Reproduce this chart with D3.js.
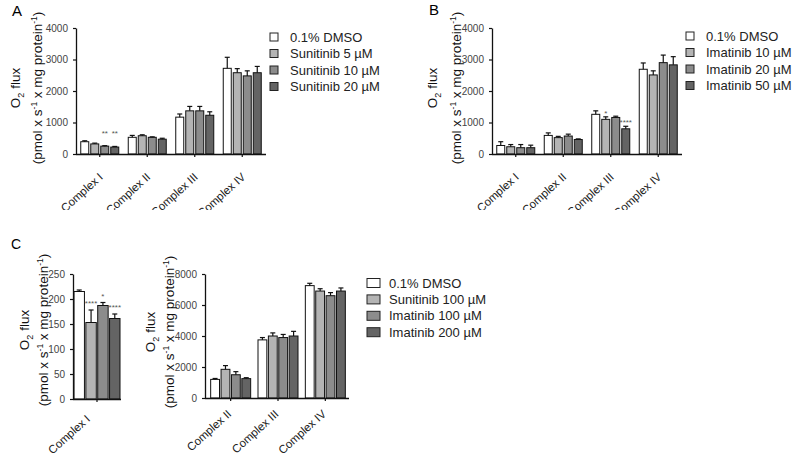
<!DOCTYPE html>
<html><head><meta charset="utf-8">
<script src="https://cdn.jsdelivr.net/npm/d3@7"></script>
<style>
body{margin:0;background:#fff;}
svg{display:block;font-family:"Liberation Sans",Arial,sans-serif;}
</style></head>
<body><svg id="chart" width="800" height="459"></svg>
<script>
// ---------------- DATA ----------------
const categoriesAB = ["Complex I","Complex II","Complex III","Complex IV"];
const categoriesC1 = ["Complex I"];
const categoriesC2 = ["Complex II","Complex III","Complex IV"];

const seriesA = ["0.1% DMSO","Sunitinib 5 µM","Sunitinib 10 µM","Sunitinib 20 µM"];
const seriesB = ["0.1% DMSO","Imatinib 10 µM","Imatinib 20 µM","Imatinib 50 µM"];
const seriesC = ["0.1% DMSO","Sunitinib 100 µM","Imatinib 100 µM","Imatinib 200 µM"];

// means[category][series]
const meansA = [[390,320,250,220],[530,580,530,470],[1170,1370,1370,1230],[2720,2580,2480,2580]];
const errA   = [[30,25,15,20],[60,30,15,30],[100,140,140,110],[350,130,160,200]];
const sigA   = [["","","**","**"],["","","",""],["","","",""],["","","",""]];

const meansB = [[270,230,200,200],[590,520,570,460],[1260,1100,1160,800],[2690,2510,2900,2830]];
const errB   = [[120,70,100,80],[80,40,60,20],[110,80,40,80],[200,130,240,260]];
const sigB   = [["","","",""],["","","",""],["","*","","****"],["","","",""]];

const meansC1 = [[215,153,187,161]];
const errC1   = [[3,25,6,9]];
const sigC1   = [["","****","*","****"]];

const meansC2 = [[1200,1850,1500,1250],[3750,4000,3900,4000],[7250,6900,6600,6900]];
const errC2   = [[60,240,200,60],[150,200,200,300],[150,150,200,200]];

const ticksAB = [0,1000,2000,3000,4000];
const ticksC1 = [0,50,100,150,200,250];
const ticksC2 = [0,2000,4000,6000,8000];

const fills = ["#ffffff","#b4b4b4","#8c8c8c","#646464"];

// ---------------- DRAW ----------------
const svg = d3.select("#chart");
svg.append("rect").attr("width",800).attr("height",459).attr("fill","#fff");

svg.append("defs").append("clipPath").attr("id","clipTop")
  .append("rect").attr("x",0).attr("y",0).attr("width",800).attr("height",210);

function yTitle(g, x1, x2, cy){
  const t1 = g.append("text").attr("transform",`translate(${x1},${cy}) rotate(-90)`)
    .attr("text-anchor","middle").attr("font-size",13.5).attr("fill","#111");
  t1.append("tspan").text("O");
  t1.append("tspan").attr("font-size",9).attr("dy",4).text("2");
  t1.append("tspan").attr("dy",-4).text(" flux");
  const t2 = g.append("text").attr("transform",`translate(${x2},${cy}) rotate(-90)`)
    .attr("text-anchor","middle").attr("font-size",13.5).attr("fill","#111");
  t2.append("tspan").text("(pmol x s");
  t2.append("tspan").attr("font-size",8.5).attr("dy",-5).text("-1");
  t2.append("tspan").attr("dy",5).text(" x mg protein");
  t2.append("tspan").attr("font-size",8.5).attr("dy",-5).text("-1");
  t2.append("tspan").attr("dy",5).text(")");
}

function panel(cfg){
  const g = svg.append("g");
  if (cfg.clip) g.attr("clip-path","url(#clipTop)");
  const y = d3.scaleLinear().domain([0, cfg.ticks[cfg.ticks.length-1]]).range([cfg.y0, cfg.y1]);
  const x = d3.scaleBand().domain(cfg.cats).range([cfg.x0 + cfg.shift, cfg.x1]).paddingInner(0).paddingOuter(0);
  const xs = d3.scaleBand().domain(d3.range(4)).range([-cfg.gw/2, cfg.gw/2]).paddingInner(cfg.pad);

  // bars
  cfg.cats.forEach((c, ci) => {
    const cx = x(c) + x.bandwidth()/2;
    for (let si = 0; si < 4; si++){
      const m = cfg.means[ci][si], e = cfg.err[ci][si];
      const bx = cx + xs(si), bw = xs.bandwidth();
      g.append("rect").attr("x",bx).attr("y",y(m)).attr("width",bw).attr("height",cfg.y0 - y(m))
        .attr("fill",fills[si]).attr("stroke","#111").attr("stroke-width",1);
      const mx = bx + bw/2;
      g.append("line").attr("x1",mx).attr("x2",mx).attr("y1",y(m)).attr("y2",y(m+e))
        .attr("stroke","#111").attr("stroke-width",1.2);
      g.append("line").attr("x1",mx-2.5).attr("x2",mx+2.5).attr("y1",y(m+e)).attr("y2",y(m+e))
        .attr("stroke","#111").attr("stroke-width",1.2);
      const s = cfg.sig ? cfg.sig[ci][si] : "";
      if (s) {
        g.append("text").attr("x",mx).attr("y",y(m+e) - cfg.sigOff).attr("text-anchor","middle")
          .attr("font-size",8).attr("fill","#555").text(s);
      }
    }
  });

  // y axis
  const ya = g.append("g").attr("transform",`translate(${cfg.x0},0)`)
    .call(d3.axisLeft(y).tickValues(cfg.ticks).tickFormat(d3.format("d")).tickSize(3).tickSizeOuter(0).tickPadding(5));
  ya.select(".domain").attr("stroke","#111").attr("stroke-width",1.3);
  ya.selectAll(".tick line").attr("stroke","#111").attr("stroke-width",1.2);
  ya.selectAll(".tick text").attr("font-size",10).attr("fill","#444").attr("font-family","Liberation Sans, Arial, sans-serif");

  // x axis (ticks only, labels drawn separately)
  const xa = g.append("g").attr("transform",`translate(0,${cfg.y0})`)
    .call(d3.axisBottom(x).tickSize(3).tickSizeOuter(0).tickFormat(""));
  xa.select(".domain").attr("d",`M${cfg.x0},0.5H${cfg.xEnd}`).attr("stroke","#111").attr("stroke-width",1.3);
  xa.selectAll(".tick line").attr("stroke","#111").attr("stroke-width",1.2);

  cfg.cats.forEach(c => {
    const cx = x(c) + x.bandwidth()/2;
    const lg = g.append("g").attr("transform",`translate(${cx + cfg.lx},${cfg.y0 + cfg.ly})`);
    lg.append("text").attr("transform","rotate(-42)")
      .attr("x",0).attr("y",0)
      .attr("text-anchor","end").attr("font-size",11.5).attr("fill","#222").text(c);
  });

  yTitle(svg, cfg.tx1, cfg.tx2, cfg.tcy);

  // legend
  if (cfg.legend){
    const L = cfg.legend;
    cfg.series.forEach((s, i) => {
      const ly = L.y + i*L.dy;
      svg.append("rect").attr("x",L.x).attr("y",ly - L.sh/2).attr("width",L.sw).attr("height",L.sh)
        .attr("fill",fills[i]).attr("stroke","#222").attr("stroke-width",1);
      svg.append("text").attr("x",L.tx).attr("y",ly).attr("dy","0.36em")
        .attr("font-size",13).attr("fill","#222").text(s);
    });
  }
}

panel({cats:categoriesAB, means:meansA, err:errA, sig:sigA, series:seriesA, ticks:ticksAB,
  x0:76, shift:0, x1:266, xEnd:266, y0:154, y1:28, gw:38, pad:0.2, sigOff:10, clip:true,
  lx:4, ly:24,
  tx1:20, tx2:42, tcy:88,
  legend:{x:270, tx:290, y:37, dy:16.5, sw:8, sh:8}});

panel({cats:categoriesAB, means:meansB, err:errB, sig:sigB, series:seriesB, ticks:ticksAB,
  x0:492, shift:0, x1:682, xEnd:682, y0:154, y1:28, gw:38, pad:0.2, sigOff:1, clip:true,
  lx:4, ly:24,
  tx1:437, tx2:461, tcy:88,
  legend:{x:686, tx:706, y:36, dy:16.5, sw:8, sh:8}});

// panel letters
svg.append("text").attr("x",12).attr("y",16).attr("font-size",15).attr("fill","#000").text("A");
svg.append("text").attr("x",429).attr("y",15).attr("font-size",15).attr("fill","#000").text("B");
svg.append("text").attr("x",11).attr("y",249).attr("font-size",14).attr("fill","#000").text("C");

panel({cats:categoriesC1, means:meansC1, err:errC1, sig:sigC1, series:seriesC, ticks:ticksC1,
  x0:73, shift:0, x1:121, xEnd:121, y0:399, y1:274, gw:46, pad:0.12, sigOff:4, clip:false,
  lx:-6, ly:21,
  tx1:29, tx2:48, tcy:330});

panel({cats:categoriesC2, means:meansC2, err:errC2, sig:null, series:seriesC, ticks:ticksC2,
  x0:205, shift:2, x1:349, xEnd:349, y0:398, y1:274, gw:40, pad:0.15, sigOff:6, clip:false,
  lx:1.5, ly:17,
  tx1:155, tx2:174, tcy:332,
  legend:{x:367, tx:389, y:283, dy:16.4, sw:13, sh:9}});
</script></body></html>
